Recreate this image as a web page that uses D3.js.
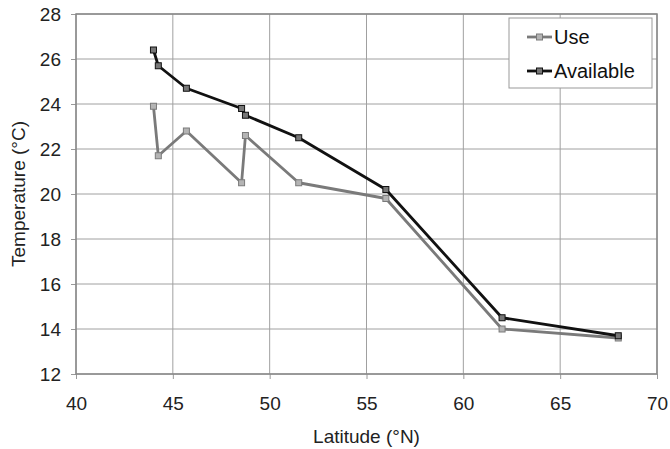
<!DOCTYPE html>
<html lang="en">
<head>
<meta charset="UTF-8">
<title>Temperature vs latitude</title>
<script src="https://d3js.org/d3.v7.min.js"></script>
<style>
  body { margin: 0; background: #fff; font-family: "Liberation Sans", Arial, sans-serif; }
</style>
</head>
<body>
<svg id="chart" width="670" height="449"></svg>
<script>
// --- data ---
const latitude = [44.0, 44.25, 45.7, 48.55, 48.75, 51.5, 56.0, 62.0, 68.0];
const useTemp = [23.9, 21.7, 22.8, 20.5, 22.6, 20.5, 19.8, 14.0, 13.6];
const availableTemp = [26.4, 25.7, 24.7, 23.8, 23.5, 22.5, 20.2, 14.5, 13.7];
const xTicks = [40, 45, 50, 55, 60, 65, 70];
const yTicks = [12, 14, 16, 18, 20, 22, 24, 26, 28];
const seriesNames = ["Use", "Available"];

const FONT = "Liberation Sans, Arial, sans-serif";

const series = [
  { name: seriesNames[0], values: useTemp, color: "#7a7a7a", marker: "#b4b4b4" },
  { name: seriesNames[1], values: availableTemp, color: "#111", marker: "#777" }
];

const svg = d3.select("#chart");
const margin = { left: 76, right: 13, top: 14, bottom: 75 };
const width = 670 - margin.left - margin.right;
const height = 449 - margin.top - margin.bottom;

const x = d3.scaleLinear().domain([40, 70]).range([0, width]);
const y = d3.scaleLinear().domain([12, 28]).range([height, 0]);

const g = svg.append("g").attr("transform", `translate(${margin.left},${margin.top})`);

// gridlines
g.append("g")
  .selectAll("line")
  .data(yTicks)
  .enter().append("line")
  .attr("x1", 0).attr("x2", width)
  .attr("y1", d => y(d)).attr("y2", d => y(d))
  .attr("stroke", "#a0a0a0").attr("stroke-width", 1);
g.append("g")
  .selectAll("line")
  .data(xTicks)
  .enter().append("line")
  .attr("y1", 0).attr("y2", height)
  .attr("x1", d => x(d)).attr("x2", d => x(d))
  .attr("stroke", "#a0a0a0").attr("stroke-width", 1);

// axes
const xAxis = g.append("g")
  .attr("transform", `translate(0,${height})`)
  .call(d3.axisBottom(x).tickValues(xTicks).tickSize(5).tickPadding(18));
const yAxis = g.append("g")
  .call(d3.axisLeft(y).tickValues(yTicks).tickSize(5).tickPadding(10));
[xAxis, yAxis].forEach(a => {
  a.attr("font-family", FONT).attr("font-size", 19);
  a.select(".domain").remove();
  a.selectAll(".tick line").attr("stroke", "#999");
  a.selectAll(".tick text").attr("fill", "#222");
});

// plot border
g.append("rect")
  .attr("width", width).attr("height", height)
  .attr("fill", "none").attr("stroke", "#888").attr("stroke-width", 1.5);

// lines
const line = d3.line()
  .x((d, i) => x(latitude[i]))
  .y(d => y(d));

series.forEach(s => {
  g.append("path")
    .datum(s.values)
    .attr("fill", "none")
    .attr("stroke", s.color)
    .attr("stroke-width", 2.8)
    .attr("stroke-linejoin", "round")
    .attr("d", line);
  g.append("g")
    .selectAll("rect")
    .data(s.values)
    .enter().append("rect")
    .attr("x", (d, i) => x(latitude[i]) - 3)
    .attr("y", d => y(d) - 3)
    .attr("width", 6).attr("height", 6)
    .attr("fill", s.marker)
    .attr("stroke", s.color)
    .attr("stroke-width", 1);
});

// axis titles
svg.append("text")
  .attr("x", margin.left + width / 2)
  .attr("y", 443)
  .attr("text-anchor", "middle")
  .attr("font-family", FONT).attr("font-size", 19).attr("fill", "#222")
  .text("Latitude (°N)");
svg.append("text")
  .attr("transform", `translate(25,${margin.top + height / 2}) rotate(-90)`)
  .attr("text-anchor", "middle")
  .attr("font-family", FONT).attr("font-size", 19).attr("fill", "#222")
  .text("Temperature (°C)");

// legend
const legend = svg.append("g").attr("transform", "translate(509,18)");
legend.append("rect")
  .attr("width", 143).attr("height", 70)
  .attr("fill", "#fff").attr("stroke", "#999").attr("stroke-width", 1);
series.forEach((s, i) => {
  const ly = 19 + i * 34;
  const row = legend.append("g").attr("transform", `translate(0,${ly})`);
  row.append("line")
    .attr("x1", 18).attr("x2", 43)
    .attr("stroke", s.color).attr("stroke-width", 2.8);
  row.append("rect")
    .attr("x", 27.5).attr("y", -3).attr("width", 6).attr("height", 6)
    .attr("fill", s.marker).attr("stroke", s.color);
  row.append("text")
    .attr("x", 45).attr("dy", "0.35em")
    .attr("font-family", FONT).attr("font-size", 20).attr("fill", "#111")
    .text(s.name);
});
</script>
</body>
</html>
